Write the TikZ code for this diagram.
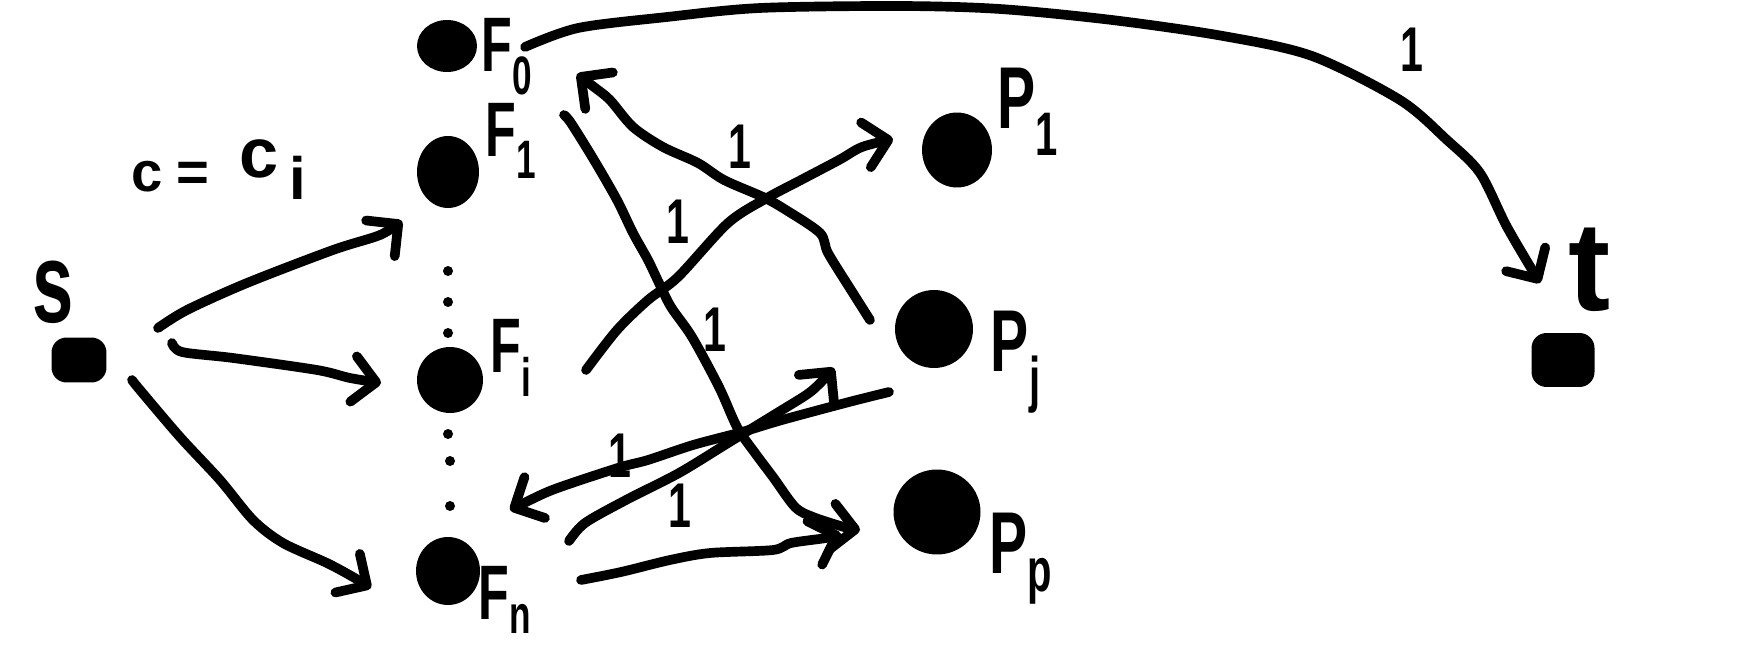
\documentclass[tikz,border=0pt]{standalone}
\usepackage{fontspec}
\setmainfont{Liberation Sans}
\newfontfamily\hand{Liberation Sans}[FakeStretch=0.65]
\usetikzlibrary{arrows.meta,shapes.geometric}
\begin{document}
\begin{tikzpicture}[x=0.02cm,y=-0.02cm,
  blob/.style={ellipse,fill=black,inner sep=0pt},
  sqblob/.style={rectangle,rounded corners=0.3cm,fill=black,inner sep=0pt},
  dotn/.style={circle,fill=black,inner sep=0pt,minimum size=0.2cm},
  edge/.style={line width=5.5pt,line cap=round,line join=round,-{Straight Barb[length=13pt,width=26pt,round]}},
  flbl/.style={inner sep=0pt,font=\hand\bfseries\fontsize{44}{44}\selectfont},
  plbl/.style={inner sep=0pt,font=\hand\bfseries\fontsize{50}{50}\selectfont},
  wt/.style={inner sep=0pt,font=\hand\bfseries\fontsize{36}{36}\selectfont}]
\fill[white] (0,0) rectangle (1743,648);
\useasboundingbox (0,0) rectangle (1743,648);

% vertices
\node[sqblob,minimum width=1.1cm,minimum height=0.9cm] (s) at (79,360) {};
\node[blob,minimum width=1.2cm,minimum height=1.04cm] (F0) at (447,46) {};
\node[blob,minimum width=1.24cm,minimum height=1.44cm] (F1) at (448,172) {};
\node[blob,minimum width=1.32cm,minimum height=1.32cm] (Fi) at (450,380) {};
\node[blob,minimum width=1.28cm,minimum height=1.36cm] (Fn) at (448,571) {};
\node[blob,minimum width=1.4cm,minimum height=1.5cm] (P1) at (957,150) {};
\node[blob,minimum width=1.56cm,minimum height=1.56cm] (Pj) at (934,329) {};
\node[blob,minimum width=1.74cm,minimum height=1.7cm] (Pp) at (937,512) {};
\node[sqblob,minimum width=1.26cm,minimum height=1.08cm] (t) at (1563,360) {};

% dots
\node[dotn] (d1) at (448,271) {};
\node[dotn] (d2) at (448,302) {};
\node[dotn] (d3) at (448,333) {};
\node[dotn] (d4) at (448,434) {};
\node[dotn] (d5) at (450,461) {};
\node[dotn] (d6) at (450,506) {};

% labels
\node[inner sep=0pt,font=\hand\bfseries\fontsize{65}{65}\selectfont] (sl) at (53,292) {s};
\node[inner sep=0pt,font=\bfseries\fontsize{72}{72}\selectfont] (tl) at (1590,270) {t};
\node[inner sep=0pt,anchor=base west,font=\bfseries] (cl) at (131,192)
  {{\fontsize{32}{32}\selectfont c\hspace{8pt}=\hspace{17pt}}\raisebox{8pt}{\fontsize{40}{40}\selectfont c}\hspace{6pt}\raisebox{-4pt}{\fontsize{34}{34}\selectfont i}};
\node[flbl] (F0l) at (507,57) {F\textsubscript{0}};
\node[flbl] (F1l) at (511,141) {F\textsubscript{1}};
\node[flbl] (Fil) at (511,358) {F\textsubscript{i}};
\node[flbl] (Fnl) at (505,600) {F\textsubscript{n}};
\node[plbl] (P1l) at (1028,112) {P\textsubscript{1}};
\node[plbl] (Pjl) at (1016,362) {P\textsubscript{j}};
\node[plbl] (Ppl) at (1021,559) {P\textsubscript{p}};

% connector end points
\coordinate (e1s) at (158,328);  \coordinate (e1t) at (402,221);
\coordinate (e2s) at (172,343);  \coordinate (e2t) at (381,383);
\coordinate (e3s) at (132,380);  \coordinate (e3t) at (371,588);
\coordinate (eTs) at (525,47);   \coordinate (eTt) at (1540,283);
\coordinate (eAs) at (870,320);  \coordinate (eAt) at (577,74);
\coordinate (eBs) at (564,115);  \coordinate (eBt) at (860,530);
\coordinate (eCs) at (586,370);  \coordinate (eCt) at (893,139);
\coordinate (eDs) at (889,392);  \coordinate (eDt) at (510,510);
\coordinate (eEs) at (569,541);  \coordinate (eEt) at (834,368);
\coordinate (eFs) at (581,580);  \coordinate (eFt) at (841,534);

% connectors
\draw[edge] plot[smooth] coordinates {(e1s) (187,310) (247,283) (333,250) (380,235) (e1t)};
\draw[edge] plot[smooth] coordinates {(e2s) (182,352) (233,358) (317,370) (350,378) (e2t)};
\draw[edge] plot[smooth] coordinates {(e3s) (140,390) (180,437) (220,480) (253,520) (283,543) (327,563) (353,577) (e3t)};
\draw[edge] plot[smooth] coordinates {(eTs) (578,28) (667,17) (760,8) (900,6) (1000,9) (1112,20) (1223,36) (1312,56) (1400,100) (1447,140) (1480,173) (1507,227) (eTt)};
\draw[edge] plot[smooth] coordinates {(eAs) (851,290) (828,253) (820,233) (786,210) (763,197) (724,180) (698,163) (663,147) (633,127) (610,100) (594,87) (eAt)};
\draw[edge] plot[smooth] coordinates {(eBs) (571,123) (594,160) (617,200) (633,233) (648,260) (659,283) (671,307) (692,337) (719,387) (737,427) (755,453) (773,477) (795,507) (813,517) (844,527) (eBt)};
\draw[edge] plot[smooth] coordinates {(eCs) (617,330) (648,300) (678,277) (728,223) (767,198) (801,180) (839,160) (862,147) (eCt)};
\draw[edge] plot[smooth] coordinates {(eDs) (849,402) (782,420) (742,432) (693,445) (648,460) (621,467) (572,483) (545,493) (eDt)};
\draw[edge] plot[smooth] coordinates {(eEs) (585,523) (626,500) (679,473) (728,443) (777,413) (809,393) (826,377) (eEt)};
\draw[edge] plot[smooth] coordinates {(eFs) (621,572) (670,560) (710,553) (773,550) (791,543) (826,538) (eFt)};

% weights
\node[wt] (wT) at (1412,50) {1};
\node[wt] (wA) at (740,147) {1};
\node[wt] (wC) at (678,222) {1};
\node[wt] (wB) at (715,330) {1};
\node[wt] (wD) at (620,456) {1};
\node[wt] (wF) at (680,506) {1};
\end{tikzpicture}
\end{document}
